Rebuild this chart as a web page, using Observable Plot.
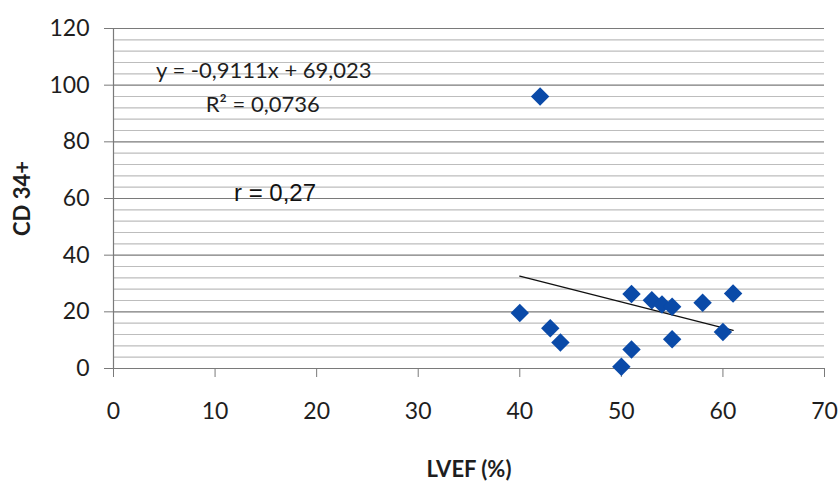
<!DOCTYPE html>
<html>
<head>
<meta charset="utf-8">
<script src="https://cdn.jsdelivr.net/npm/d3@7"></script>
<script src="https://cdn.jsdelivr.net/npm/@observablehq/plot@0.6"></script>
<style>
  html, body { margin: 0; padding: 0; background: #fff; }
  #chart svg { display: block; }
</style>
</head>
<body>
<div id="chart"></div>
<script>
// Data
const lvef = [40, 42, 43, 44, 50, 51, 51, 53, 54, 55, 55, 58, 60, 61];
const cd34 = [19.6, 96, 14.2, 9.2, 0.6, 6.7, 26.3, 24.1, 22.6, 21.8, 10.3, 23.2, 12.9, 26.5];

// Linear trend line (from the chart's equation)
const slope = -0.9111;
const intercept = 69.023;

// Ticks
const xTicks = [0, 10, 20, 30, 40, 50, 60, 70];
const yTicks = [0, 20, 40, 60, 80, 100, 120];
const yMinorTicks = d3.range(0, 121, 4).filter(v => v % 20 !== 0);

// Annotation texts
const annotationLabels = ["y = -0,9111x + 69,023", "R² = 0,0736", "r = 0,27"];
const annotationX = [14.8, 14.7, 15.9];
const annotationY = [104.9, 92.9, 61.9];

const points = lvef.map((x, i) => ({x, y: cd34[i]}));
const xMin = d3.min(lvef), xMax = d3.max(lvef);
const trend = [xMin, xMax].map(x => ({x, y: slope * x + intercept}));
const eqNotes = annotationLabels.slice(0, 2).map((label, i) => ({label, x: annotationX[i], y: annotationY[i]}));
const rNote = [{label: annotationLabels[2], x: annotationX[2], y: annotationY[2]}];

const chart = Plot.plot({
  width: 838,
  height: 481,
  marginLeft: 113,
  marginRight: 14,
  marginTop: 28,
  marginBottom: 113,
  style: {background: "#fff", fontFamily: "Lato, 'Open Sans', sans-serif", overflow: "visible"},
  x: {domain: [0, 70]},
  y: {domain: [0, 120]},
  marks: [
    Plot.ruleY(yMinorTicks, {stroke: "#bdbdbd", strokeWidth: 1.2}),
    Plot.ruleY(yTicks.filter(v => v !== 0), {stroke: "#7a7a7a", strokeWidth: 1.2}),
    Plot.ruleY([0], {stroke: "#7a7a7a", strokeWidth: 1.2}),
    Plot.ruleX([0], {stroke: "#7a7a7a", strokeWidth: 1.2}),
    Plot.axisY({ticks: yTicks, tickSize: 9, tickPadding: 15, fontSize: 23, label: null, stroke: "#7a7a7a", fill: "#1e1e1e"}),
    Plot.axisX({ticks: xTicks, tickSize: 9, tickPadding: 25, fontSize: 23, label: null, stroke: "#7a7a7a", fill: "#1e1e1e"}),
    Plot.line(trend, {x: "x", y: "y", stroke: "#111", strokeWidth: 1.4}),
    Plot.dot(points, {x: "x", y: "y", symbol: "diamond2", r: 8.3, fill: "#0a4aa8", stroke: "none"}),
    Plot.text(eqNotes, {x: "x", y: "y", text: "label", fontSize: 22, fill: "#1e1e1e", fontFamily: "Lato, sans-serif", textAnchor: "middle", lineAnchor: "middle"}),
    Plot.text(rNote, {x: "x", y: "y", text: "label", fontSize: 24, fill: "#111", fontFamily: "'Liberation Sans', Arial, sans-serif", textAnchor: "middle", lineAnchor: "middle"}),
    Plot.text(["CD 34+"], {frameAnchor: "left", dx: -91, rotate: -90, fontSize: 22, fontWeight: "bold", fill: "#1e1e1e", textAnchor: "middle", lineAnchor: "middle"}),
    Plot.text(["LVEF (%)"], {frameAnchor: "bottom", dy: 101, fontSize: 22, fontWeight: "bold", fill: "#1e1e1e", textAnchor: "middle", lineAnchor: "middle"})
  ]
});
document.getElementById("chart").appendChild(chart);
</script>
</body>
</html>
